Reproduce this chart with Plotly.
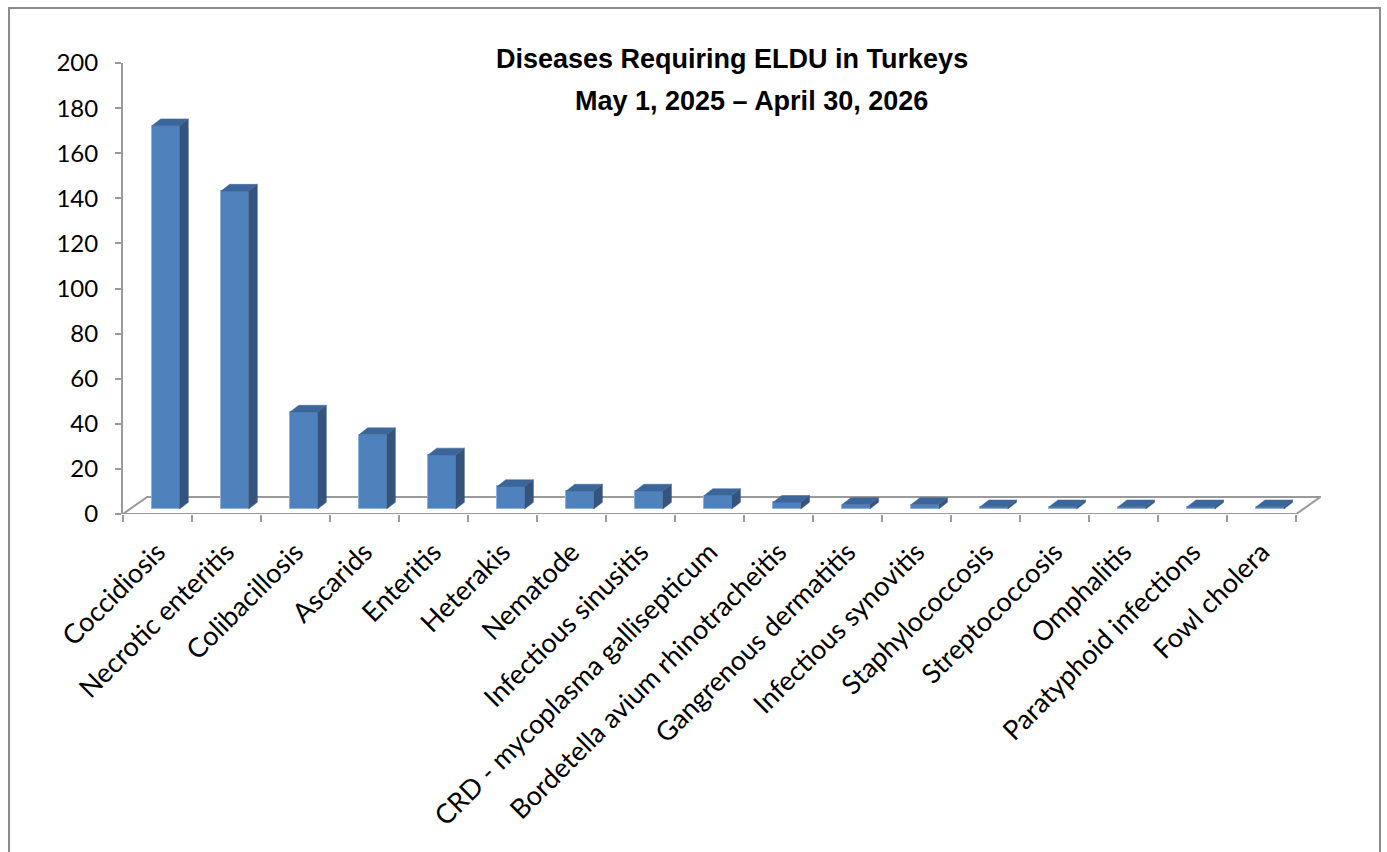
import plotly.graph_objects as go

categories = ["Coccidiosis", "Necrotic enteritis", "Colibacillosis", "Ascarids", "Enteritis",
              "Heterakis", "Nematode", "Infectious sinusitis", "CRD - mycoplasma gallisepticum",
              "Bordetella avium rhinotracheitis", "Gangrenous dermatitis", "Infectious synovitis",
              "Staphylococcosis", "Streptococcosis", "Omphalitis", "Paratyphoid infections",
              "Fowl cholera"]
values = [170, 141, 43, 33, 24, 10, 8, 8, 6, 3, 2, 2, 1, 1, 1, 1, 1]
y_ticks = [0, 20, 40, 60, 80, 100, 120, 140, 160, 180, 200]

# style / pseudo-3D geometry (in axis units)
FRONT = "#4F81BD"
SIDE = "#34547E"
TOP = "#3C6599"
GRAY = "#9A9A9A"
bar_w = 0.40
bar_shift = 0.12
base = 2.2
dx, dy = 0.126, 3.0
floor_dx, floor_dy = 0.348, 7.54

n = len(categories)
pos = list(range(n))
xmin, xmax = -0.5, n - 0.5 + floor_dx + 0.01

fig = go.Figure()

# front faces
fig.add_trace(go.Bar(
    x=[p + bar_shift for p in pos], y=values, base=base, width=bar_w,
    marker=dict(color=FRONT, line=dict(color="#8EB0DC", width=1)),
    hovertext=categories, hoverinfo="text+y", showlegend=False,
))

# side and top faces
sx, sy, tx, ty = [], [], [], []
for p, v in zip(pos, values):
    l = p + bar_shift - bar_w / 2
    r = p + bar_shift + bar_w / 2
    t = base + v
    sx += [r, r + dx, r + dx, r, r, None]
    sy += [base, base + dy, t + dy, t, base, None]
    tx += [l, r, r + dx, l + dx, l, None]
    ty += [t, t, t + dy, t + dy, t, None]
fig.add_trace(go.Scatter(x=sx, y=sy, mode="lines", fill="toself", fillcolor=SIDE,
                         line=dict(color=SIDE, width=0.5), hoverinfo="skip", showlegend=False))
fig.add_trace(go.Scatter(x=tx, y=ty, mode="lines", fill="toself", fillcolor=TOP,
                         line=dict(color=TOP, width=0.5), hoverinfo="skip", showlegend=False))

# invisible trace on xaxis2 for boundary tick marks
fig.add_trace(go.Scatter(x=[xmin, xmax], y=[0, 0], xaxis="x2", mode="markers",
                         marker=dict(opacity=0), hoverinfo="skip", showlegend=False))

# floor
x0f, x1f = -0.5, n - 0.5
fig.add_shape(type="path", layer="below",
              path=f"M {x0f} 0 L {x1f} 0 L {x1f + floor_dx} {floor_dy} L {x0f + floor_dx} {floor_dy} Z",
              line=dict(color=GRAY, width=2), fillcolor="white", xref="x", yref="y")

# outer border
fig.add_shape(type="rect", xref="paper", yref="paper",
              x0=(9 - 123) / 1198, x1=(1380 - 123) / 1198,
              y0=-1.0, y1=(514 - 8) / 451,
              line=dict(color="#8C8C8C", width=2), fillcolor="rgba(0,0,0,0)")

fig.add_annotation(text="<b>Diseases Requiring ELDU in Turkeys</b>", xref="paper", yref="paper",
                   x=(732 - 123) / 1198, y=(514 - 59) / 451, showarrow=False,
                   xanchor="center", yanchor="middle",
                   font=dict(family="Liberation Sans, Arial", size=27, color="black"))
fig.add_annotation(text="<b>May 1, 2025 – April 30, 2026</b>", xref="paper", yref="paper",
                   x=(751 - 123) / 1198, y=(514 - 101) / 451, showarrow=False,
                   xanchor="center", yanchor="middle",
                   font=dict(family="Liberation Sans, Arial", size=27, color="black"))

fig.update_layout(
    width=1387, height=852,
    margin=dict(l=123, r=66, t=63, b=338),
    paper_bgcolor="white", plot_bgcolor="white",
    bargap=0,
    xaxis=dict(range=[xmin, xmax], tickvals=[p for p in pos], ticktext=categories,
               tickangle=-45, ticks="", showgrid=False, zeroline=False, showline=False,
               ticklabelstandoff=16,
               tickfont=dict(family="Lato, Open Sans", size=27, color="black")),
    xaxis2=dict(range=[xmin, xmax], overlaying="x", anchor="y", side="bottom",
                tickvals=[p - 0.5 for p in range(n + 1)], ticks="outside", ticklen=7,
                tickwidth=2, tickcolor=GRAY, showticklabels=False, showgrid=False,
                zeroline=False, showline=False),
    yaxis=dict(range=[0, 200], tickvals=y_ticks, ticks="outside", ticklen=6, tickwidth=2,
               tickcolor=GRAY, showline=True, linecolor=GRAY, linewidth=2, showgrid=False,
               zeroline=False, ticklabelstandoff=12,
               tickfont=dict(family="Lato, Open Sans", size=24, color="black")),
)

fig.write_html("out.html")
